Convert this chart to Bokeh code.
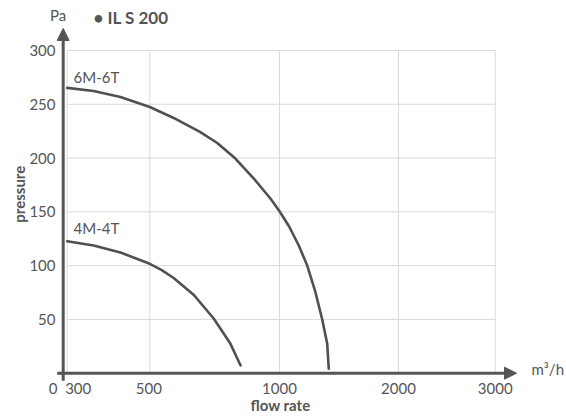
import numpy as np
from bokeh.plotting import figure
from bokeh.models import Range1d, Arrow, NormalHead, ColumnDataSource
from bokeh.core.properties import value
from bokeh.embed import file_html
from bokeh.resources import INLINE

# ---------------- data ----------------
FLOW_TICKS = [300, 500, 1000, 2000, 3000]          # x tick values (m3/h)
TICK_POS = [0.0, 82.6, 212.3, 331.3, 428.0]         # axis position of each tick (non-linear scale)
X_TICK_LABELS = ["0", "300", "500", "1000", "2000", "3000"]
PRESSURE_TICKS = [50, 100, 150, 200, 250, 300]
Y_TICK_LABELS = ["50", "100", "150", "200", "250", "300"]

flow_6m6t = [300, 364, 429, 500, 592, 695, 760, 830, 901, 965, 1000, 1081, 1162, 1233, 1302, 1359, 1401, 1414]
pres_6m6t = [265.3, 262.4, 256.8, 247.5, 237.3, 224.1, 214.0, 199.6, 181.0, 162.4, 150.6, 136.4, 118.7, 100.1, 75.3, 49.9, 27.3, 4.1]

flow_4m4t = [300, 364, 429, 500, 546, 592, 670, 747, 811, 850]
pres_4m4t = [122.7, 118.7, 112.2, 101.7, 95.9, 88.5, 72.7, 50.6, 27.3, 7.2]

series_names = ["6M-6T", "4M-4T"]

# ---------------- styling ----------------
FONT = value("Lato")
TXT = "#555555"
CURVE = "#505050"
GRID = "#dadada"
ORIGIN_X = -4.0   # position of the pressure axis

def fpos(flows):
    return np.interp(flows, FLOW_TICKS, TICK_POS)

W, H = 566, 419
p = figure(width=W, height=H, output_backend="svg", toolbar_location=None,
           x_axis_location=None, y_axis_location=None,
           x_range=Range1d(-66.7, 499.3), y_range=Range1d(-43.05, 346.5),
           min_border=0, min_border_left=0, min_border_right=0,
           min_border_top=0, min_border_bottom=0,
           background_fill_color="white", border_fill_color="white")
p.outline_line_color = None
p.xgrid.visible = False
p.ygrid.visible = False

# grid
ymax = max(PRESSURE_TICKS)
p.segment(x0=TICK_POS, x1=TICK_POS, y0=[0] * len(TICK_POS), y1=[ymax] * len(TICK_POS),
          line_color=GRID, line_width=1)
p.segment(x0=[TICK_POS[0]] * len(PRESSURE_TICKS), x1=[TICK_POS[-1]] * len(PRESSURE_TICKS),
          y0=PRESSURE_TICKS, y1=PRESSURE_TICKS, line_color=GRID, line_width=1)

# curves
p.line(fpos(flow_6m6t), pres_6m6t, line_color=CURVE, line_width=2.6, line_join="round", line_cap="round")
p.line(fpos(flow_4m4t), pres_4m4t, line_color=CURVE, line_width=2.6, line_join="round", line_cap="round")

# axes with arrows
p.add_layout(Arrow(x_start=-10, y_start=0, x_end=TICK_POS[-1] + 21.3, y_end=0,
                   line_color=TXT, line_width=3,
                   end=NormalHead(size=12, fill_color=TXT, line_color=TXT, line_width=1)))
p.add_layout(Arrow(x_start=ORIGIN_X, y_start=-7, x_end=ORIGIN_X, y_end=ymax + 20.5,
                   line_color=TXT, line_width=3,
                   end=NormalHead(size=12, fill_color=TXT, line_color=TXT, line_width=1)))

# y tick labels
p.text(x=[-11.7] * len(PRESSURE_TICKS), y=PRESSURE_TICKS, text=Y_TICK_LABELS,
       text_font=FONT, text_font_size="15px", text_color=TXT,
       text_align="right", text_baseline="middle")

# x tick labels
xsrc = ColumnDataSource(dict(x=[ORIGIN_X] + TICK_POS, y=[-13.9] * len(X_TICK_LABELS),
                             text=X_TICK_LABELS, dx=[-10, 11, -1, 0, 0, 0]))
p.text(x="x", y="y", text="text", x_offset="dx", source=xsrc,
       text_font=FONT, text_font_size="15px", text_color=TXT,
       text_align="center", text_baseline="middle")

# series labels
p.text(x=[6.3, 6.3], y=[275.4, 135.0], text=series_names,
       text_font=FONT, text_font_size="15px", text_color=TXT,
       text_align="left", text_baseline="middle")

# axis titles / units
p.text(x=[-9.2], y=[333.3], text=["Pa"], text_font=FONT, text_font_size="15px",
       text_color=TXT, text_align="center", text_baseline="middle")
p.text(x=[26.3], y=[330.7], text=["• IL S 200"], text_font=FONT, text_font_size="17px",
       text_font_style="bold", text_color=TXT, text_align="left", text_baseline="middle")
p.text(x=[464.3], y=[3.9], text=["m³/h"], text_font=FONT, text_font_size="15px",
       text_color=TXT, text_align="left", text_baseline="middle")
p.text(x=[-48.7], y=[166.4], text=["pressure"], angle=np.pi / 2, text_font=FONT,
       text_font_size="15px", text_font_style="bold", text_color=TXT,
       text_align="center", text_baseline="middle")
p.text(x=[213.3], y=[-30.0], text=["flow rate"], text_font=FONT, text_font_size="15px",
       text_font_style="bold", text_color=TXT, text_align="center", text_baseline="middle")

open("out.html", "w").write(file_html(p, INLINE))
